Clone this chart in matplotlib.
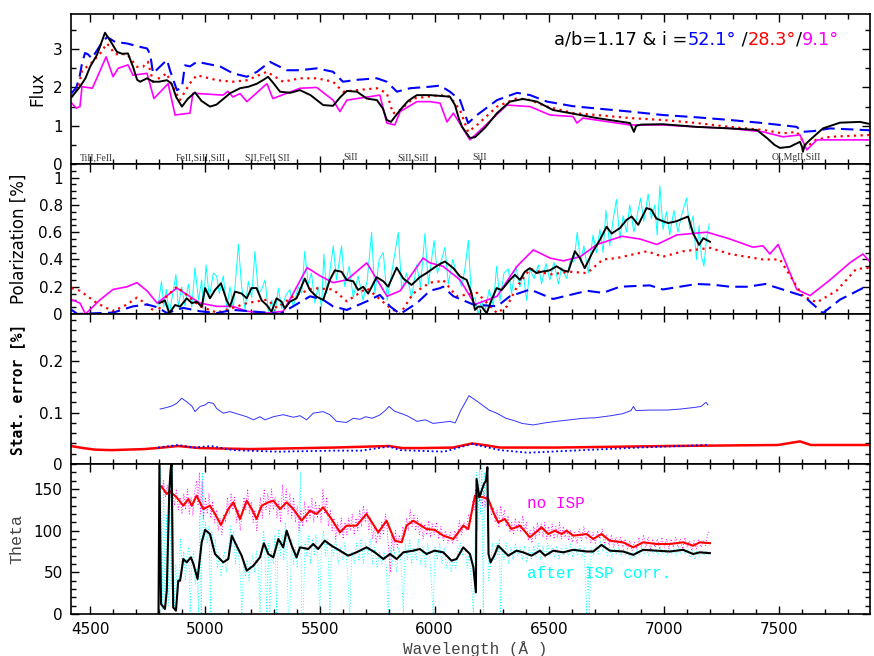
import matplotlib
matplotlib.use('Agg')
import matplotlib.pyplot as plt
from matplotlib.ticker import MultipleLocator

# ---------------- DATA ----------------
# Flux panel
flux_obs_wl = [4420,4456,4480,4500,4530,4565,4590,4617,4640,4665,4687,4705,4718,4748,4775,4800,4835,4855,4875,4900,4925,4957,4985,5022,5050,5074,5110,5153,5190,5227,5255,5275,5300,5327,5371,5414,5460,5515,5558,5590,5618,5662,5705,5749,5775,5792,5810,5850,5885,5923,5980,6024,6067,6089,6105,6120,6154,6176,6220,6272,6328,6385,6446,6516,6590,6707,6851,6860,6868,6878,6900,6994,7142,7286,7403,7447,7480,7504,7547,7591,7600,7604,7612,7635,7691,7765,7852,7900]
flux_obs = [1.75,2.02,2.24,2.54,2.85,3.43,3.2,2.93,2.88,2.89,2.54,2.2,2.15,2.24,2.15,2.15,2.19,2.1,1.75,1.5,1.7,1.87,1.65,1.5,1.55,1.67,1.85,1.98,2.02,2.1,2.2,2.28,2.1,1.89,1.86,1.93,1.8,1.54,1.52,1.75,1.91,1.89,1.71,1.67,1.45,1.15,1.1,1.41,1.65,1.8,1.8,1.78,1.76,1.54,1.2,0.97,0.68,0.70,0.95,1.33,1.63,1.70,1.63,1.41,1.33,1.2,1.07,0.95,0.84,1.0,1.03,1.04,0.97,0.93,0.89,0.68,0.5,0.42,0.45,0.58,0.45,0.32,0.5,0.63,0.93,1.08,1.1,1.04]

flux_52_wl = [4420,4440,4455,4465,4478,4490,4508,4544,4574,4609,4661,4718,4748,4762,4774,4835,4848,4878,4900,4913,4935,4965,5066,5122,5183,5227,5283,5357,5414,5487,5558,5601,5662,5749,5792,5836,5893,5980,6024,6067,6111,6146,6185,6272,6359,6416,6490,6603,6707,6851,6994,7142,7286,7430,7577,7600,7650,7722,7900]
flux_52 = [1.85,2.0,2.3,2.63,2.9,2.87,2.76,3.1,3.32,3.19,3.15,3.06,3.02,2.87,2.37,2.72,2.45,1.93,2.0,2.58,2.55,2.67,2.55,2.37,2.28,2.41,2.67,2.45,2.45,2.5,2.41,2.15,2.2,2.24,2.15,1.89,1.98,2.02,2.05,1.89,1.67,1.07,1.28,1.67,1.86,1.8,1.63,1.51,1.45,1.37,1.28,1.22,1.15,1.07,0.97,0.84,0.86,0.93,0.88]

flux_28_wl = [4420,4450,4465,4500,4544,4574,4609,4661,4704,4730,4752,4774,4835,4848,4891,4935,4965,5052,5122,5183,5270,5341,5414,5487,5558,5601,5662,5749,5792,5819,5850,5906,6024,6067,6111,6146,6185,6272,6359,6416,6490,6603,6707,6851,6994,7142,7286,7430,7517,7577,7621,7660,7722,7900]
flux_28 = [1.76,2.0,2.45,2.6,2.89,3.15,2.87,2.87,2.54,2.54,2.67,2.15,2.37,2.15,1.67,2.11,2.32,2.19,2.15,2.19,2.41,2.15,2.24,2.24,2.15,1.89,1.93,1.98,1.85,1.32,1.41,1.71,1.8,1.76,1.41,0.84,1.02,1.5,1.72,1.67,1.5,1.33,1.28,1.2,1.15,1.07,0.97,0.89,0.8,0.84,0.45,0.63,0.71,0.76]

flux_9_wl = [4420,4440,4456,4465,4510,4570,4600,4622,4665,4687,4748,4778,4840,4870,4935,4948,5079,5100,5122,5153,5183,5270,5296,5414,5487,5558,5588,5618,5762,5792,5827,5850,5923,5980,6024,6054,6082,6154,6315,6416,6503,6603,6620,6646,6851,6994,7142,7286,7430,7517,7591,7621,7665,7722,7900]
flux_9 = [1.59,1.46,1.5,2.02,1.98,2.8,2.28,2.5,2.59,2.32,2.37,1.71,2.1,1.28,1.33,1.85,1.8,1.9,1.75,1.84,1.63,2.1,1.71,1.98,2.0,1.67,1.37,1.67,1.8,1.07,1.02,1.37,1.63,1.63,1.59,1.1,1.33,0.63,1.54,1.5,1.28,1.24,1.07,1.2,1.02,1.02,0.97,0.93,0.84,0.71,0.76,0.37,0.63,0.63,0.63]

line_ids = ["TiII,FeII", "FeII,SiII,SiII", "SII,FeII SII", "SiII", "SiII,SiII", "SiII", "OI,MgII,SiII"]
line_id_wl = [4456, 4874, 5175, 5601, 5837, 6163, 7469]

# Polarization panel
pol_obs_wl = [4802,4826,4845,4870,4892,4921,4943,4964,4986,5001,5022,5044,5070,5095,5109,5131,5160,5182,5203,5225,5247,5269,5290,5312,5334,5348,5370,5399,5435,5457,5486,5515,5544,5566,5595,5617,5646,5667,5689,5711,5748,5777,5798,5835,5864,5900,5936,5965,5990,6016,6045,6082,6111,6140,6161,6176,6190,6205,6227,6248,6270,6292,6328,6350,6372,6393,6415,6444,6466,6502,6531,6560,6582,6611,6633,6654,6690,6720,6749,6771,6807,6836,6858,6887,6923,6944,6966,6995,7017,7053,7082,7104,7126,7152,7170,7199]
pol_obs = [0.08,0.10,0.005,0.066,0.054,0.115,0.08,0.09,0.054,0.19,0.115,0.176,0.225,0.10,0.054,0.164,0.15,0.115,0.19,0.19,0.10,0.066,0.017,0.115,0.09,0.04,0.09,0.115,0.26,0.176,0.127,0.103,0.25,0.32,0.31,0.25,0.24,0.176,0.2,0.15,0.27,0.24,0.2,0.34,0.26,0.213,0.27,0.3,0.33,0.36,0.385,0.336,0.275,0.25,0.152,0.03,0.054,0.054,0.005,0.103,0.19,0.176,0.25,0.287,0.25,0.31,0.336,0.3,0.31,0.32,0.35,0.32,0.31,0.46,0.41,0.336,0.46,0.544,0.64,0.59,0.63,0.69,0.715,0.654,0.777,0.765,0.70,0.68,0.667,0.68,0.70,0.715,0.59,0.507,0.556,0.53]

pol_raw_wl = [4796,4811,4821,4832,4845,4860,4874,4884,4899,4913,4928,4943,4957,4972,4986,4993,5005,5019,5037,5051,5063,5080,5095,5109,5124,5146,5160,5175,5189,5204,5218,5233,5247,5262,5276,5291,5305,5320,5334,5353,5370,5385,5406,5421,5435,5450,5464,5479,5493,5508,5518,5530,5544,5559,5573,5595,5609,5628,5646,5667,5689,5707,5726,5740,5759,5777,5794,5813,5842,5857,5878,5900,5922,5939,5958,5973,5987,5998,6012,6031,6045,6060,6079,6096,6118,6132,6147,6161,6176,6190,6205,6219,6238,6256,6270,6285,6302,6321,6335,6354,6372,6386,6401,6415,6433,6452,6466,6485,6502,6520,6539,6553,6575,6592,6607,6621,6636,6650,6669,6690,6705,6720,6734,6746,6763,6778,6792,6807,6821,6836,6850,6868,6882,6897,6911,6930,6944,6959,6969,6981,6995,7010,7024,7042,7060,7075,7097,7111,7126,7140,7152,7162,7173,7184,7196]
pol_raw = [0.06,0.24,0.05,0.18,0.0,0.15,0.29,0.05,0.2,0.06,0.22,0.05,0.34,0.10,0.25,0.04,0.36,0.12,0.30,0.28,0.15,0.28,0.04,0.20,0.05,0.51,0.2,0.03,0.24,0.12,0.46,0.15,0.18,0.25,0.02,0.10,0.0,0.19,0.04,0.14,0.18,0.05,0.2,0.15,0.46,0.22,0.3,0.08,0.2,0.05,0.44,0.15,0.31,0.5,0.25,0.5,0.2,0.35,0.12,0.28,0.10,0.25,0.6,0.15,0.4,0.45,0.1,0.3,0.6,0.18,0.3,0.12,0.36,0.2,0.59,0.22,0.4,0.54,0.3,0.4,0.49,0.22,0.4,0.3,0.2,0.33,0.54,0.1,0.12,0.0,0.1,0.02,0.18,0.06,0.35,0.1,0.3,0.33,0.15,0.35,0.2,0.3,0.1,0.33,0.26,0.36,0.22,0.37,0.25,0.38,0.22,0.34,0.26,0.4,0.38,0.6,0.38,0.5,0.3,0.58,0.45,0.62,0.45,0.76,0.5,0.7,0.84,0.55,0.72,0.60,0.8,0.6,0.72,0.85,0.68,0.88,0.7,0.8,0.58,0.94,0.62,0.75,0.58,0.76,0.6,0.72,0.85,0.62,0.72,0.4,0.65,0.42,0.35,0.55,0.66]

pol_9_wl = [4420,4456,4480,4544,4600,4661,4704,4748,4792,4878,4979,5052,5122,5183,5270,5341,5384,5445,5501,5558,5618,5705,5793,5850,5950,5980,6037,6111,6176,6272,6359,6430,6503,6560,6634,6707,6816,6894,6968,7055,7186,7286,7386,7430,7460,7496,7577,7635,7722,7808,7865,7900]
pol_9 = [0.105,0.08,0.0,0.105,0.18,0.2,0.23,0.17,0.08,0.19,0.08,0.056,0.056,0.02,0.007,0.02,0.15,0.34,0.28,0.23,0.25,0.375,0.13,0.17,0.41,0.375,0.35,0.25,0.07,0.13,0.35,0.47,0.41,0.39,0.42,0.51,0.57,0.55,0.51,0.58,0.6,0.55,0.49,0.5,0.44,0.51,0.18,0.135,0.25,0.375,0.44,0.375]

pol_28_wl = [4420,4456,4530,4600,4661,4704,4748,4792,4818,4878,4979,5052,5122,5183,5270,5314,5384,5471,5558,5618,5705,5806,5850,5906,5980,6024,6037,6096,6185,6272,6315,6359,6416,6503,6590,6664,6733,6794,6925,6994,7082,7199,7286,7430,7504,7604,7665,7750,7836,7900]
pol_28 = [0.19,0.17,0.08,0.02,0.07,0.12,0.07,0.0,0.105,0.2,0.056,0.01,0.045,0.08,0.105,0.045,0.13,0.19,0.18,0.093,0.19,0.045,0.0,0.15,0.23,0.24,0.25,0.13,0.155,0.007,0.056,0.2,0.33,0.29,0.31,0.3,0.4,0.41,0.46,0.42,0.46,0.485,0.44,0.4,0.4,0.13,0.086,0.17,0.33,0.34]

pol_52_wl = [4420,4445,4544,4600,4687,4748,4792,4835,4905,4979,5052,5122,5270,5327,5384,5458,5514,5558,5618,5705,5762,5806,5850,5923,5980,6024,6037,6082,6168,6272,6328,6416,6516,6590,6664,6733,6807,6937,6994,7142,7212,7286,7364,7440,7534,7608,7691,7765,7865,7900]
pol_52 = [0.03,0.0,0.007,0.01,0.056,0.07,0.05,0.007,0.045,0.02,0.007,0.03,0.01,0.0,0.056,0.13,0.105,0.056,0.03,0.093,0.14,0.056,0.0,0.08,0.17,0.19,0.2,0.13,0.07,0.056,0.13,0.18,0.11,0.14,0.17,0.155,0.2,0.21,0.18,0.22,0.215,0.2,0.2,0.22,0.17,0.13,0.007,0.105,0.19,0.18]

# Statistical error panel
err_bin_wl = [4805,4834,4856,4877,4899,4921,4943,4957,4979,5001,5015,5037,5051,5080,5109,5153,5182,5211,5240,5262,5298,5341,5385,5414,5443,5472,5515,5544,5573,5617,5646,5675,5700,5728,5760,5785,5802,5825,5850,5880,5924,5960,5993,6030,6067,6090,6115,6150,6189,6237,6270,6311,6350,6381,6429,6480,6529,6590,6646,6700,6768,6820,6855,6866,6877,6940,7012,7070,7130,7160,7182,7190]
err_bin = [0.107,0.11,0.113,0.118,0.128,0.121,0.113,0.102,0.112,0.115,0.12,0.118,0.108,0.099,0.102,0.096,0.092,0.086,0.092,0.086,0.092,0.096,0.091,0.094,0.086,0.099,0.102,0.096,0.083,0.081,0.089,0.087,0.092,0.089,0.095,0.104,0.112,0.103,0.099,0.094,0.083,0.086,0.079,0.081,0.083,0.080,0.105,0.133,0.121,0.105,0.099,0.089,0.084,0.079,0.076,0.080,0.083,0.086,0.089,0.090,0.094,0.098,0.104,0.112,0.104,0.105,0.105,0.107,0.11,0.112,0.12,0.115]

err_model_wl = [4417,4470,4520,4591,4735,4790,4883,4979,5197,5558,5802,5860,5945,6080,6163,6230,6285,6529,7012,7495,7591,7639,7896]
err_model = [0.035,0.031,0.028,0.027,0.029,0.031,0.035,0.031,0.029,0.032,0.035,0.031,0.031,0.032,0.04,0.036,0.032,0.032,0.035,0.037,0.044,0.037,0.037]

err_raw_wl = [4796,4883,4953,5027,5122,5318,5558,5680,5802,5850,6041,6163,6285,6407,6646,6890,7190]
err_raw = [0.032,0.037,0.032,0.035,0.027,0.024,0.026,0.026,0.034,0.027,0.024,0.039,0.027,0.022,0.027,0.032,0.037]

# Theta panel
theta_noisp_wl = [4811,4834,4848,4877,4906,4928,4943,4964,4993,5022,5044,5070,5102,5124,5153,5182,5204,5225,5247,5276,5298,5327,5356,5385,5421,5457,5486,5515,5551,5588,5617,5660,5704,5755,5791,5827,5857,5878,5907,5965,6000,6038,6082,6125,6147,6176,6212,6234,6256,6277,6306,6335,6372,6415,6466,6495,6524,6553,6575,6604,6662,6691,6727,6763,6821,6865,6908,6966,7024,7082,7126,7155,7199]
theta_noisp = [153,144,147,140,130,138,130,142,126,130,120,107,126,134,114,136,126,114,130,134,136,126,134,126,112,124,120,128,114,98,106,106,120,98,112,88,86,106,112,102,101,94,90,106,102,142,140,138,122,110,114,102,106,92,104,96,100,96,100,94,96,90,96,88,86,80,86,84,84,86,82,86,85]

theta_isp_wl = [4798,4802,4809,4826,4834,4845,4851,4855,4862,4874,4884,4892,4906,4921,4939,4950,4968,4986,5001,5022,5044,5080,5102,5117,5138,5160,5182,5211,5240,5257,5276,5298,5320,5341,5356,5378,5399,5414,5450,5472,5493,5522,5551,5588,5624,5660,5704,5740,5777,5806,5835,5864,5907,5936,5965,6000,6038,6074,6096,6125,6154,6169,6180,6183,6195,6205,6215,6224,6230,6235,6244,6263,6277,6299,6321,6357,6386,6422,6459,6481,6517,6560,6604,6662,6691,6727,6763,6821,6865,6908,6966,7024,7082,7126,7155,7199]
theta_isp = [0,180,12,6,28,148,174,180,8,4,40,40,66,62,68,60,42,86,101,96,72,62,66,94,82,70,52,58,68,85,72,68,90,80,100,82,68,80,78,84,78,88,82,76,70,74,80,74,66,72,66,74,76,78,72,76,74,64,66,80,72,56,26,162,140,148,156,160,176,72,62,72,82,76,70,76,74,70,76,70,76,74,77,75,75,83,76,75,71,77,76,75,77,72,74,73]

theta_raw_isp_wl = [4803,4808,4814,4820,4826,4833,4840,4847,4853,4860,4866,4873,4880,4887,4894,4900,4908,4915,4922,4930,4936,4943,4950,4958,4965,4972,4978,4984,4990,4996,5003,5010,5018,5024,5030,5038,5046,5054,5062,5070,5078,5086,5094,5102,5110,5117,5125,5133,5140,5148,5155,5161,5168,5176,5184,5192,5200,5208,5216,5224,5232,5240,5248,5256,5262,5269,5276,5283,5290,5298,5305,5312,5320,5328,5336,5344,5350,5356,5363,5370,5378,5386,5394,5402,5410,5416,5421,5428,5436,5444,5452,5460,5468,5476,5484,5492,5500,5508,5516,5524,5532,5538,5544,5552,5560,5570,5580,5590,5600,5610,5620,5631,5640,5650,5660,5670,5680,5690,5700,5710,5720,5730,5740,5750,5760,5770,5780,5790,5798,5806,5815,5825,5835,5845,5855,5864,5872,5882,5892,5900,5910,5920,5930,5940,5950,5960,5970,5980,5994,6002,6012,6022,6032,6042,6052,6062,6072,6082,6092,6102,6112,6122,6132,6142,6150,6160,6169,6175,6181,6188,6195,6200,6206,6212,6218,6224,6230,6236,6244,6252,6260,6268,6276,6282,6288,6294,6302,6312,6322,6332,6342,6352,6362,6372,6382,6392,6402,6412,6422,6432,6442,6452,6462,6472,6482,6492,6502,6512,6522,6532,6542,6552,6562,6572,6582,6592,6602,6612,6622,6632,6642,6652,6662,6668,6674,6682,6692,6702,6712,6722,6732,6742,6752,6762,6772,6782,6792,6802,6812,6822,6832,6842,6852,6862,6872,6882,6892,6902,6912,6922,6932,6942,6952,6962,6972,6982,6992,7002,7012,7022,7032,7042,7052,7062,7072,7082,7092,7102,7112,7122,7132,7142,7152,7162,7172,7182,7192,7198]
theta_raw_isp = [0,175,5,160,20,120,10,170,30,178,5,60,20,45,90,55,75,40,70,80,2,60,75,35,55,0,120,0,170,90,110,85,105,0,100,75,90,55,70,45,65,75,50,72,105,80,100,60,85,65,40,0,60,45,65,40,60,70,50,75,55,2,80,100,70,0,85,2,75,60,95,0,100,70,95,65,110,85,0,5,90,60,80,55,95,170,0,2,85,70,95,60,90,70,95,65,0,85,100,70,90,60,0,85,70,90,60,80,65,85,55,0,75,60,85,65,90,60,85,70,90,60,80,55,75,60,75,55,0,80,60,75,50,80,60,0,85,65,90,60,80,65,90,60,80,55,85,65,0,80,65,85,60,80,55,70,50,65,55,75,85,70,80,55,70,40,0,60,170,100,175,120,178,0,170,140,178,40,60,85,65,85,70,90,0,80,65,85,60,80,65,85,70,80,65,82,62,80,65,82,68,85,65,82,68,85,70,80,68,82,66,80,70,82,70,84,68,80,70,82,68,80,0,60,0,80,70,82,72,88,75,85,70,80,68,78,72,80,70,78,70,76,66,74,68,78,70,80,72,78,70,80,72,78,70,80,72,78,70,80,72,78,70,80,72,80,72,78,68,76,66,75,68,76,70,76,72,75]

theta_raw_noisp_wl = [4812,4820,4828,4836,4844,4852,4860,4868,4876,4884,4892,4900,4908,4916,4924,4932,4940,4948,4956,4964,4970,4976,4982,4988,4994,5002,5010,5018,5026,5034,5042,5050,5058,5066,5074,5082,5090,5098,5106,5114,5122,5130,5138,5146,5154,5162,5170,5178,5186,5194,5202,5210,5218,5226,5234,5242,5250,5258,5266,5274,5282,5290,5298,5306,5314,5322,5330,5338,5346,5354,5362,5370,5378,5386,5394,5402,5410,5418,5426,5434,5442,5450,5458,5466,5474,5482,5490,5498,5506,5514,5522,5530,5538,5546,5554,5562,5570,5578,5586,5594,5602,5610,5618,5626,5634,5642,5650,5658,5666,5674,5682,5690,5698,5706,5714,5722,5730,5738,5746,5754,5762,5770,5778,5786,5794,5802,5808,5814,5822,5830,5838,5846,5854,5862,5870,5878,5886,5894,5902,5910,5918,5926,5934,5942,5950,5958,5966,5974,5982,5990,5998,6008,6018,6028,6038,6048,6058,6068,6078,6088,6098,6108,6118,6128,6138,6148,6158,6166,6172,6178,6184,6190,6196,6202,6208,6214,6220,6226,6232,6240,6248,6256,6264,6272,6280,6288,6296,6304,6312,6320,6328,6336,6344,6352,6360,6368,6376,6384,6392,6400,6408,6416,6424,6432,6440,6448,6456,6464,6472,6480,6488,6496,6504,6512,6520,6528,6536,6544,6552,6560,6568,6576,6584,6592,6600,6610,6620,6630,6640,6650,6660,6670,6680,6690,6700,6710,6720,6730,6740,6750,6760,6770,6780,6790,6800,6810,6820,6830,6840,6850,6860,6870,6880,6890,6900,6910,6920,6930,6940,6950,6960,6970,6980,6990,7000,7010,7020,7030,7040,7050,7060,7070,7080,7090,7100,7110,7120,7130,7140,7150,7160,7170,7180,7190,7198]
theta_raw_noisp = [150,160,140,155,135,150,145,130,150,125,140,120,145,125,150,120,140,118,148,160,130,170,120,160,115,140,120,145,115,135,110,125,100,115,95,120,110,140,120,145,125,140,110,125,100,120,140,125,150,120,135,110,125,100,120,140,115,150,125,145,120,150,125,140,115,135,110,155,125,150,120,145,115,140,110,130,100,125,105,135,110,130,115,140,110,135,115,130,110,150,120,140,105,125,100,115,90,110,95,115,90,110,95,115,100,120,95,115,100,125,105,130,110,125,100,115,90,105,85,100,90,110,95,120,100,70,50,95,75,100,80,95,85,105,95,115,100,125,105,120,100,115,95,110,90,108,95,112,92,108,95,110,90,105,88,100,85,98,85,100,88,112,95,110,100,120,110,135,125,150,130,148,135,145,130,148,128,142,125,135,118,128,110,125,105,130,112,125,105,118,98,110,95,115,100,112,98,118,100,110,88,100,85,105,90,110,95,108,92,110,90,105,92,108,90,105,92,110,90,105,92,102,88,100,86,98,85,102,88,105,90,100,85,98,85,100,90,102,84,95,82,95,80,92,82,92,80,90,78,88,76,86,78,92,80,95,80,92,78,90,80,90,78,92,80,90,78,90,80,92,80,90,78,92,80,88,76,88,78,90,80,88,82,96,100]

title_parts = ["a/b=1.17 & i =", "52.1°", " /", "28.3°", "/", "9.1°"]
title_colors = ["black", "#0000ff", "black", "#ff0000", "black", "#ff00ff"]

# ---------------- FIGURE ----------------
BLUE, RED, MAG, CYAN = "#0000ff", "#ff0000", "#ff00ff", "#00ffff"
fig = plt.figure(figsize=(8.74, 6.56), dpi=100)
L, W, H = 71/874, 799/874, 150/656
bottoms = [1-164/656, 1-314/656, 1-464/656, 1-614/656]
axs = [fig.add_axes([L, b, W, H]) for b in bottoms]

for ax in axs:
    ax.set_xlim(4417, 7896)
    ax.xaxis.set_major_locator(MultipleLocator(500))
    ax.xaxis.set_minor_locator(MultipleLocator(100))
    ax.tick_params(which='both', direction='in', top=True, right=True,
                   labelsize=11, width=1.0, pad=6)
    ax.tick_params(which='major', length=6)
    ax.tick_params(which='minor', length=3.5)
    for s in ax.spines.values():
        s.set_linewidth(1.2)
    if ax is not axs[-1]:
        ax.tick_params(labelbottom=False)

ax1, ax2, ax3, ax4 = axs

# Flux
ax1.plot(flux_52_wl, flux_52, color=BLUE, lw=1.5, ls=(0, (6, 3)))
ax1.plot(flux_28_wl, flux_28, color=RED, lw=1.6, ls=(0, (1, 2)))
ax1.plot(flux_9_wl, flux_9, color=MAG, lw=1.2)
ax1.plot(flux_obs_wl, flux_obs, color='black', lw=1.4)
ax1.set_ylim(0, 3.92)
ax1.yaxis.set_major_locator(MultipleLocator(1))
ax1.yaxis.set_minor_locator(MultipleLocator(0.5))
ax1.set_ylabel("Flux", fontsize=12, va='center')
ax1.yaxis.set_label_coords((37-71)/799, 0.5)
for s, w in zip(line_ids, line_id_wl):
    ax1.text(w, 0.17, s, fontsize=7, family='Liberation Serif', color='#333333',
             ha='left', va='center')

fig.canvas.draw()
r = fig.canvas.get_renderer()
xpos = 554/874
for s, c in zip(title_parts, title_colors):
    t = fig.text(xpos, 1-40/656, s, color=c, fontsize=12.8, ha='left', va='center')
    xpos += t.get_window_extent(renderer=r).width / 874

# Polarization
ax2.plot(pol_raw_wl, pol_raw, color=CYAN, lw=0.7)
ax2.plot(pol_9_wl, pol_9, color=MAG, lw=1.2)
ax2.plot(pol_28_wl, pol_28, color=RED, lw=1.6, ls=(0, (1, 2)))
ax2.plot(pol_52_wl, pol_52, color=BLUE, lw=1.5, ls=(0, (6, 3)))
ax2.plot(pol_obs_wl, pol_obs, color='black', lw=1.4)
ax2.set_ylim(0, 1.1)
ax2.set_yticks([0, 0.2, 0.4, 0.6, 0.8, 1.0])
ax2.set_yticklabels(["0", "0.2", "0.4", "0.6", "0.8", "1"])
ax2.yaxis.set_minor_locator(MultipleLocator(0.05))
ax2.set_ylabel("Polarization [%]", fontsize=12, va='center')
ax2.yaxis.set_label_coords((19-71)/799, 0.5)

# Stat error
ax3.plot(err_bin_wl, err_bin, color='#3333ff', lw=0.7)
ax3.plot(err_model_wl, err_model, color=RED, lw=1.8)
ax3.plot(err_raw_wl, err_raw, color=BLUE, lw=1.3, ls=(0, (1, 1.5)))
ax3.set_ylim(0, 0.292)
ax3.set_yticks([0, 0.1, 0.2])
ax3.set_yticklabels(["0", "0.1", "0.2"])
ax3.yaxis.set_minor_locator(MultipleLocator(0.02))
ax3.set_ylabel("Stat. error [%]", fontsize=10.5, family='DejaVu Sans Mono',
               fontweight='bold', va='center')
ax3.yaxis.set_label_coords((18-71)/799, 0.5)

# Theta
ax4.plot(theta_raw_isp_wl, theta_raw_isp, color=CYAN, lw=0.6, ls=(0, (1.2, 2.2)))
ax4.plot(theta_raw_noisp_wl, theta_raw_noisp, color=MAG, lw=0.6, ls=(0, (1.2, 2.2)))
ax4.plot(theta_noisp_wl, theta_noisp, color=RED, lw=1.5)
ax4.plot(theta_isp_wl, theta_isp, color='black', lw=1.5)
ax4.set_ylim(0, 180)
ax4.yaxis.set_major_locator(MultipleLocator(50))
ax4.yaxis.set_minor_locator(MultipleLocator(10))
ax4.set_ylabel("Theta", fontsize=12, family='Liberation Mono', color='#444444', va='center')
ax4.yaxis.set_label_coords((17-71)/799, 0.5)
ax4.set_xlabel("Wavelength (Å )", fontsize=11.5, family='Liberation Mono', color='#444444', va='center')
ax4.xaxis.set_label_coords((475-71)/799, -35/150)
ax4.text(6402, 133, "no ISP", color=MAG, fontsize=11.5, family='Liberation Mono', va='center')
ax4.text(6402, 48, "after ISP corr.", color=CYAN, fontsize=11.5, family='Liberation Mono', va='center')

fig.savefig("out.png", dpi=100)
